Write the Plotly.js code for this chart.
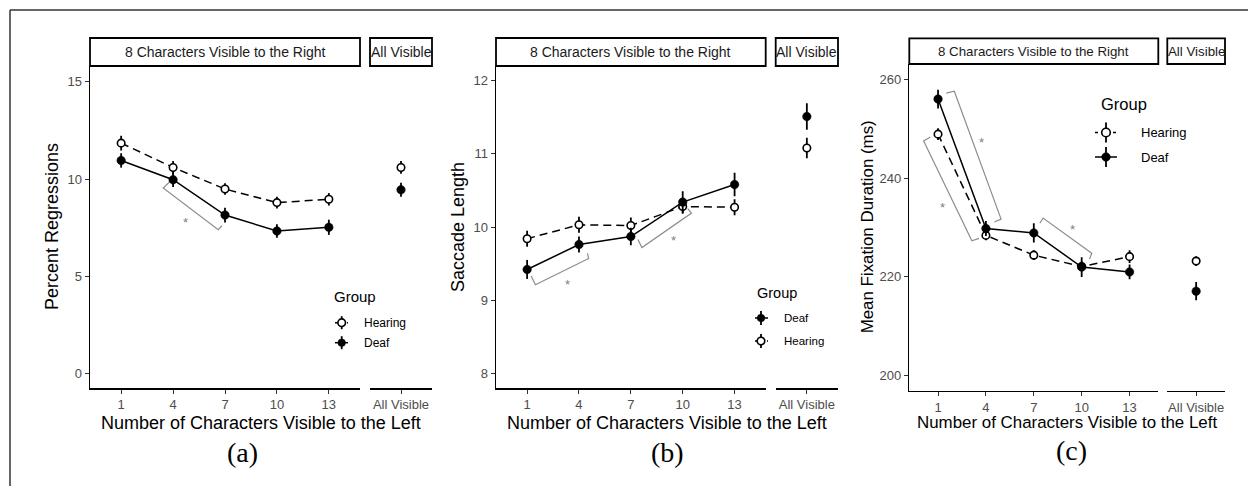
<!DOCTYPE html>
<html>
<head>
<meta charset="utf-8">
<script src="https://cdn.plot.ly/plotly-3.0.1.min.js"></script>
<style>html,body{margin:0;padding:0;background:#fff;}#chart{width:1248px;height:486px;}</style>
</head>
<body>
<div id="chart"></div>
<script>
// ---------------- DATA ----------------
const leftVisible = [1, 4, 7, 10, 13];
const leftVisibleLabels = ["1", "4", "7", "10", "13"];
const allVisibleLabel = ["All Visible"];
const groupNames = ["Hearing", "Deaf"];

// (a) Percent Regressions
const regrHearing = [11.85, 10.6, 9.49, 8.79, 8.96];
const regrHearingErr = [0.38, 0.33, 0.3, 0.3, 0.32];
const regrHearingAll = [10.6];
const regrHearingAllErr = [0.33];
const regrDeaf = [10.96, 9.97, 8.15, 7.33, 7.52];
const regrDeafErr = [0.37, 0.38, 0.38, 0.35, 0.39];
const regrDeafAll = [9.45];
const regrDeafAllErr = [0.36];

// (b) Saccade Length
const sacHearing = [9.84, 10.03, 10.02, 10.28, 10.27];
const sacHearingErr = [0.11, 0.11, 0.11, 0.1, 0.11];
const sacHearingAll = [11.08];
const sacHearingAllErr = [0.14];
const sacDeaf = [9.42, 9.76, 9.87, 10.34, 10.58];
const sacDeafErr = [0.13, 0.11, 0.12, 0.15, 0.16];
const sacDeafAll = [11.51];
const sacDeafAllErr = [0.18];

// (c) Mean Fixation Duration (ms)
const fixHearing = [248.9, 228.4, 224.4, 222.1, 224.1];
const fixHearingErr = [1.2, 1.0, 1.0, 1.0, 1.3];
const fixHearingAll = [223.2];
const fixHearingAllErr = [1.0];
const fixDeaf = [256.0, 229.8, 228.9, 222.0, 221.0];
const fixDeafErr = [1.9, 1.5, 1.95, 2.0, 1.5];
const fixDeafAll = [217.1];
const fixDeafAllErr = [1.85];

// ---------------- HELPERS ----------------
const W = 1248, H = 486;
const fx = p => p / W;
const fy = p => 1 - p / H;
const SANS = "Liberation Sans, Arial, sans-serif";
const SERIF = "Liberation Serif, Times New Roman, serif";

function groupTraces(xMain, xAll, yAx, vals, errs, allVal, allErr, hollow, name) {
  const marker = hollow
    ? {symbol: "circle", size: 7.5, color: "#ffffff", line: {color: "#000", width: 1.6}}
    : {symbol: "circle", size: 8.5, color: "#000", line: {color: "#000", width: 0.5}};
  const err = arr => ({type: "data", array: arr, visible: true, thickness: 1.8, width: 0, color: "#000"});
  return [
    {x: leftVisible, y: vals, xaxis: xMain, yaxis: yAx, type: "scatter", mode: "lines+markers", name: name,
     line: {color: "#000", width: 1.5, dash: hollow ? "8px,5px" : "solid"},
     marker: marker, error_y: err(errs), showlegend: false, hoverinfo: "x+y"},
    {x: allVisibleLabel, y: allVal, xaxis: xAll, yaxis: yAx, type: "scatter", mode: "markers", name: name,
     marker: marker, error_y: err(allErr), showlegend: false, hoverinfo: "y"}
  ];
}

const traces = [].concat(
  groupTraces("x", "x2", "y", regrHearing, regrHearingErr, regrHearingAll, regrHearingAllErr, true, groupNames[0]),
  groupTraces("x", "x2", "y", regrDeaf, regrDeafErr, regrDeafAll, regrDeafAllErr, false, groupNames[1]),
  groupTraces("x3", "x4", "y2", sacHearing, sacHearingErr, sacHearingAll, sacHearingAllErr, true, groupNames[0]),
  groupTraces("x3", "x4", "y2", sacDeaf, sacDeafErr, sacDeafAll, sacDeafAllErr, false, groupNames[1]),
  groupTraces("x5", "x6", "y3", fixHearing, fixHearingErr, fixHearingAll, fixHearingAllErr, true, groupNames[0]),
  groupTraces("x5", "x6", "y3", fixDeaf, fixDeafErr, fixDeafAll, fixDeafAllErr, false, groupNames[1])
);

// panel geometry (pixels)
const panels = [
  {x: "x", xa: "x2", y: "y", main: [90, 360], all: [370, 432], top: 66, bottom: 388, stripTop: 38,
   yrange: [-0.75, 15.82], yticks: [0, 5, 10, 15], ytitle: "Percent Regressions", ytx: 52,
   titleSize: 18, stripSize: 14, label: "(a)", labelX: 242, labelY: 452},
  {x: "x3", xa: "x4", y: "y2", main: [496, 765.7], all: [775.7, 838], top: 66, bottom: 388, stripTop: 38,
   yrange: [7.8, 12.2], yticks: [8, 9, 10, 11, 12], ytitle: "Saccade Length", ytx: 458,
   titleSize: 18, stripSize: 14, label: "(b)", labelX: 667, labelY: 452},
  {x: "x5", xa: "x6", y: "y3", main: [909.3, 1158.3], all: [1167.3, 1225], top: 64, bottom: 390.7, stripTop: 38.3,
   yrange: [196.96, 263.1], yticks: [200, 220, 240, 260], ytitle: "Mean Fixation Duration (ms)", ytx: 867,
   titleSize: 16.9, stripSize: 13.3, label: "(c)", labelX: 1071, labelY: 450}
];

const layout = {
  width: W, height: H,
  margin: {l: 0, r: 0, t: 0, b: 0},
  paper_bgcolor: "#fff", plot_bgcolor: "rgba(0,0,0,0)",
  showlegend: false,
  font: {family: SANS, color: "#000"},
  shapes: [], annotations: []
};

const axisCommon = {
  showline: true, linecolor: "#000", linewidth: 1.5, mirror: false,
  ticks: "outside", ticklen: 4, tickwidth: 1, tickcolor: "#333",
  tickfont: {family: SANS, size: 13, color: "#4d4d4d"},
  showgrid: false, zeroline: false, fixedrange: true
};

function axKey(id) { return id.replace(/^x/, "xaxis").replace(/^y/, "yaxis"); }

panels.forEach(p => {
  layout[axKey(p.x)] = Object.assign({}, axisCommon, {
    domain: [fx(p.main[0]), fx(p.main[1])], anchor: p.y, type: "linear",
    range: [-0.8, 14.8], tickvals: leftVisible, ticktext: leftVisibleLabels
  });
  layout[axKey(p.xa)] = Object.assign({}, axisCommon, {
    domain: [fx(p.all[0]), fx(p.all[1])], anchor: p.y, type: "category",
    range: [-0.6, 0.6], tickvals: allVisibleLabel, ticktext: allVisibleLabel
  });
  layout[axKey(p.y)] = Object.assign({}, axisCommon, {
    domain: [fy(p.bottom), fy(p.top)], anchor: p.x,
    range: p.yrange, tickvals: p.yticks, ticktext: p.yticks.map(String)
  });
  // strips
  [[p.main, "8 Characters Visible to the Right"], [p.all, "All Visible"]].forEach(([xs, txt]) => {
    layout.shapes.push({type: "rect", xref: "paper", yref: "paper",
      x0: fx(xs[0]), x1: fx(xs[1]), y0: fy(p.top), y1: fy(p.stripTop),
      line: {color: "#000", width: 1.8}, fillcolor: "#fff", layer: "above"});
    layout.annotations.push({xref: "paper", yref: "paper", x: fx((xs[0] + xs[1]) / 2), y: fy((p.top + p.stripTop) / 2),
      text: txt, showarrow: false, xanchor: "center", yanchor: "middle",
      font: {family: SANS, size: p.stripSize, color: "#1a1a1a"}});
  });
  // axis titles
  layout.annotations.push({xref: "paper", yref: "paper", x: fx(p.ytx), y: fy((p.top + p.bottom) / 2),
    text: p.ytitle, textangle: -90, showarrow: false, xanchor: "center", yanchor: "middle",
    font: {family: SANS, size: p.titleSize, color: "#000"}});
  layout.annotations.push({xref: "paper", yref: "paper", x: fx((p.main[0] + p.all[1]) / 2), y: fy(422.7),
    text: "Number of Characters Visible to the Left", showarrow: false, xanchor: "center", yanchor: "middle",
    font: {family: SANS, size: p.titleSize, color: "#000"}});
  layout.annotations.push({xref: "paper", yref: "paper", x: fx(p.labelX), y: fy(p.labelY),
    text: p.label, showarrow: false, xanchor: "center", yanchor: "middle",
    font: {family: SERIF, size: 28, color: "#000"}});
});

// significance brackets (annotation layer, data coordinates)
const brackets = [
  {x: "x", y: "y", px: [3.94, 3.43, 6.61, 6.82], py: [9.97, 9.54, 7.40, 7.60], star: [4.72, 7.91]},
  {x: "x3", y: "y2", px: [1.23, 1.48, 4.56, 4.49], py: [9.33, 9.21, 9.57, 9.64], star: [3.34, 9.25]},
  {x: "x3", y: "y2", px: [7.41, 7.64, 10.51, 10.29], py: [9.83, 9.72, 10.19, 10.25], star: [9.46, 9.85]},
  {x: "x5", y: "y3", px: [1.52, 2.02, 4.95, 4.53], py: [257.2, 257.6, 231.7, 231.1], star: [3.74, 247.9]},
  {x: "x5", y: "y3", px: [0.52, 0.10, 3.12, 3.57], py: [248.3, 247.5, 227.3, 227.8], star: [1.25, 234.6]},
  {x: "x5", y: "y3", px: [7.38, 7.58, 10.63, 10.49], py: [230.85, 231.9, 224.8, 223.6], star: [9.45, 230.2]}
];
brackets.forEach(b => {
  const path = b.px.map((v, i) => (i ? "L" : "M") + v + "," + b.py[i]).join(" ");
  layout.shapes.push({type: "path", xref: b.x, yref: b.y, path: path,
    line: {color: "#8c8c8c", width: 1.2}, layer: "below"});
  layout.annotations.push({xref: b.x, yref: b.y, x: b.star[0], y: b.star[1], text: "*",
    showarrow: false, xanchor: "center", yanchor: "middle", yshift: -3,
    font: {family: SANS, size: 13, color: "#7f7f7f"}});
});

// legends (drawn as keys)
const legends = [
  {titleX: 332, titleY: 296, titleSize: 15, itemSize: 12, keyL: 335, keyR: 348, keyX: 341.7, textX: 362,
   bar: 6.5, r: 3.8, items: [["Hearing", 322.7, true], ["Deaf", 342.7, false]]},
  {titleX: 755, titleY: 293, titleSize: 14.5, itemSize: 11.5, keyL: 755, keyR: 768, keyX: 761, textX: 782,
   bar: 7, r: 3.8, items: [["Deaf", 318, false], ["Hearing", 341, true]]},
  {titleX: 1098.5, titleY: 103.5, titleSize: 16.5, itemSize: 13, keyL: 1095, keyR: 1117, keyX: 1106, textX: 1139,
   bar: 10, r: 4.3, items: [["Hearing", 132.5, true], ["Deaf", 157, false]]}
];
legends.forEach(lg => {
  layout.annotations.push({xref: "paper", yref: "paper", x: fx(lg.titleX), y: fy(lg.titleY), text: "Group",
    showarrow: false, xanchor: "left", yanchor: "middle", font: {family: SANS, size: lg.titleSize, color: "#000"}});
  lg.items.forEach(([name, yy, hollow]) => {
    layout.shapes.push({type: "line", xref: "paper", yref: "paper", x0: fx(lg.keyL), x1: fx(lg.keyR), y0: fy(yy), y1: fy(yy),
      line: {color: "#000", width: 1.5, dash: hollow ? "3px,3px" : "solid"}});
    layout.shapes.push({type: "line", xref: "paper", yref: "paper", x0: fx(lg.keyX), x1: fx(lg.keyX),
      y0: fy(yy - lg.bar), y1: fy(yy + lg.bar), line: {color: "#000", width: 1.8}});
    layout.shapes.push({type: "circle", xref: "paper", yref: "paper", xsizemode: "pixel", ysizemode: "pixel",
      xanchor: fx(lg.keyX), yanchor: fy(yy), x0: -lg.r, x1: lg.r, y0: -lg.r, y1: lg.r,
      fillcolor: hollow ? "#fff" : "#000", line: {color: "#000", width: hollow ? 1.6 : 0.5}});
    layout.annotations.push({xref: "paper", yref: "paper", x: fx(lg.textX), y: fy(yy), text: name,
      showarrow: false, xanchor: "left", yanchor: "middle", font: {family: SANS, size: lg.itemSize, color: "#000"}});
  });
});

// outer frame (top and left edges)
layout.shapes.push({type: "line", xref: "paper", yref: "paper", x0: fx(10), x1: 1, y0: fy(10), y1: fy(10),
  line: {color: "#333", width: 1.5}});
layout.shapes.push({type: "line", xref: "paper", yref: "paper", x0: fx(10), x1: fx(10), y0: fy(10), y1: 0,
  line: {color: "#333", width: 1.5}});

Plotly.newPlot("chart", traces, layout, {displayModeBar: false, staticPlot: true});
</script>
</body>
</html>
